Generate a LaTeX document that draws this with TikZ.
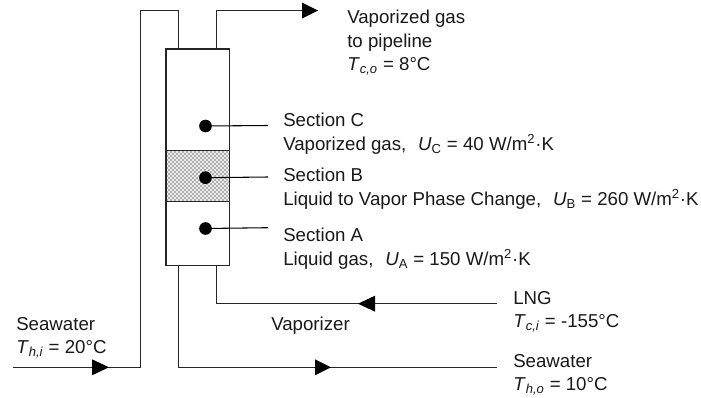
\documentclass[tikz,border=0pt]{standalone}
\usepackage{fontspec}
\setmainfont{Liberation Sans}
\tikzset{
  x=0.75pt,y=-0.75pt,
  pipe/.style={draw=black!85,line width=0.9pt},
  lead/.style={draw=black,line width=0.8pt},
  lbl/.style={font=\fontsize{14pt}{17.5pt}\selectfont,anchor=north west,inner sep=0pt,align=left,text=black!90},
  dot/.style={circle,fill=black,inner sep=0pt,minimum size=9.5pt},
  tipmark/.style={fill=black,draw=none},
  stipple/.style={fill=black!32,draw=none}
}
\begin{document}
\begin{tikzpicture}
\useasboundingbox (0,0) rectangle (701,397);
\fill[white] (0,0) rectangle (701,397);
% vessel: stippled band as a fine checkerboard
\fill[black!7] (166,150.5) rectangle (229.5,201.5);
\begin{scope}
\clip (166,150.5) rectangle (229.5,201.5);
\foreach \i in {0,...,32}{
  \foreach \j in {0,...,26}{
    \pgfmathparse{int(mod(\i+\j,2))}
    \ifnum\pgfmathresult=0
      \fill[stipple] ({166+2*\i},{150.5+2*\j}) rectangle ++(2,2);
    \fi
  }
}
\end{scope}
\draw[pipe] (166,49) rectangle (229.5,265.5);
\draw[pipe] (166,150.5) -- (229.5,150.5) (166,201.5) -- (229.5,201.5);
% pipes
\coordinate (a) at (178.7,49);
\coordinate (b) at (216.7,49);
\coordinate (c) at (178.7,265.5);
\coordinate (d) at (216.7,265.5);
\coordinate (swin) at (13,367.3);
\coordinate (swout) at (497.3,367.3);
\coordinate (lng) at (497.3,303.7);
\coordinate (gas) at (318,10.5);
\draw[pipe] (swin) -- (140.5,367.3) -- (140.5,10.5) -- (178.7,10.5) -- (a);
\draw[pipe] (b) -- (216.7,10.5) -- (gas);
\draw[pipe] (c) -- (178.7,367.3) -- (swout);
\draw[pipe] (d) -- (216.7,303.7) -- (lng);
% arrowheads
\fill[tipmark] (302,2.5) -- (318,10.5) -- (302,18.5) -- cycle;
\fill[tipmark] (92,359.3) -- (109,367.3) -- (92,375.3) -- cycle;
\fill[tipmark] (315,359.3) -- (331,367.3) -- (315,375.3) -- cycle;
\fill[tipmark] (375,295.7) -- (358,303.7) -- (375,311.7) -- cycle;
% dots and leaders
\node[dot] (dC) at (205.5,126) {};
\node[dot] (dB) at (205.5,177.7) {};
\node[dot] (dA) at (205.5,228.5) {};
\coordinate (lC) at (268,125.5);
\coordinate (lB) at (268,177);
\coordinate (lA) at (268,227.7);
\draw[lead] (dC.center) -- (lC);
\draw[lead] (dB.center) -- (lB);
\draw[lead] (dA.center) -- (lA);
% labels
\node[lbl] (t1) at (347,10.2) {Vaporized gas\\to pipeline\\\textit{T}\textsubscript{\textit{c,o}} = 8°C};
\node[lbl] (t2) at (283,113) {Section C\\Vaporized gas,\hspace{0.35em} \textit{U}\textsubscript{C} = 40 W/m\textsuperscript{2}·K};
\node[lbl] (t3) at (283,168) {Section B\\Liquid to Vapor Phase Change,\hspace{0.35em} \textit{U}\textsubscript{B} = 260 W/m\textsuperscript{2}·K};
\node[lbl] (t4) at (283,228) {Section A\\Liquid gas,\hspace{0.35em} \textit{U}\textsubscript{A} = 150 W/m\textsuperscript{2}·K};
\node[lbl] (t5) at (513,291.2) {LNG\\\textit{T}\textsubscript{\textit{c,i}} = -155°C};
\node[lbl] (t6) at (271,317.2) {Vaporizer};
\node[lbl] (t7) at (16,317.2) {Seawater\\\textit{T}\textsubscript{\textit{h,i}} = 20°C};
\node[lbl] (t8) at (513,354.2) {Seawater\\\textit{T}\textsubscript{\textit{h,o}} = 10°C};
\end{tikzpicture}
\end{document}
